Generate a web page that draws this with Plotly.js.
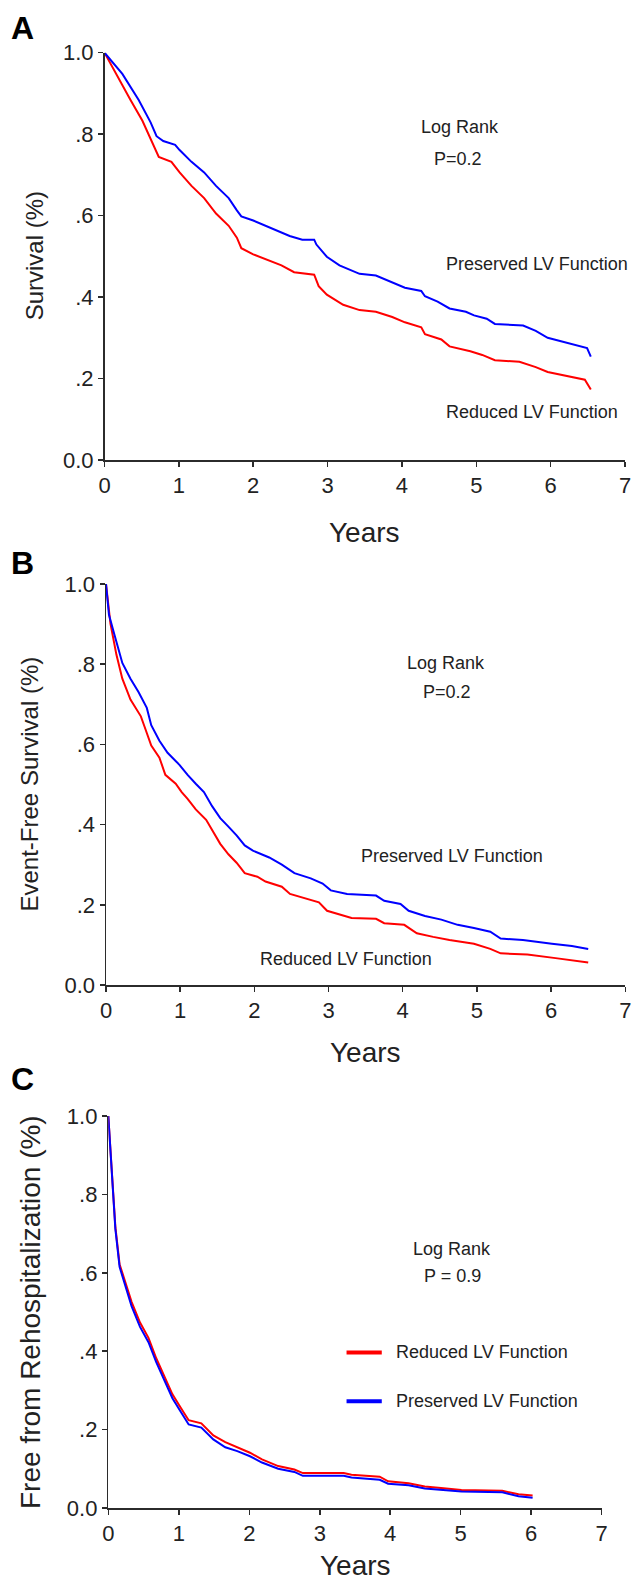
<!DOCTYPE html>
<html>
<head>
<meta charset="utf-8">
<script src="https://cdn.plot.ly/plotly-3.0.1.min.js"></script>
<style>
  html, body { margin: 0; padding: 0; background: #fff; }
  #chart { width: 640px; height: 1583px; }
</style>
</head>
<body>
<div id="chart"></div>
<script>
// ---------- Data ----------
const seriesNames = ["Reduced LV Function", "Preserved LV Function"];
const yTickVals = [0, 0.2, 0.4, 0.6, 0.8, 1.0];
const yTickText = ["0.0", ".2", ".4", ".6", ".8", "1.0"];
const xTickVals = [0, 1, 2, 3, 4, 5, 6, 7];
const xTickText = ["0", "1", "2", "3", "4", "5", "6", "7"];

// Panel A: Survival
const aRedX = [0, 0.18, 0.35, 0.51, 0.65, 0.73, 0.90, 1.01, 1.17, 1.34, 1.50, 1.67, 1.78, 1.84, 2.00, 2.16, 2.38, 2.55, 2.82, 2.88, 2.99, 3.21, 3.43, 3.65, 3.87, 4.04, 4.26, 4.31, 4.53, 4.64, 4.92, 5.08, 5.25, 5.58, 5.80, 5.96, 6.18, 6.46, 6.54];
const aRedY = [1.0, 0.939, 0.884, 0.833, 0.774, 0.744, 0.732, 0.706, 0.673, 0.643, 0.605, 0.575, 0.546, 0.520, 0.505, 0.493, 0.478, 0.461, 0.455, 0.427, 0.406, 0.381, 0.368, 0.364, 0.351, 0.338, 0.326, 0.309, 0.296, 0.279, 0.267, 0.258, 0.245, 0.241, 0.228, 0.216, 0.207, 0.197, 0.173];
const aBlueX = [0, 0.24, 0.46, 0.62, 0.70, 0.79, 0.95, 1.01, 1.17, 1.34, 1.50, 1.67, 1.78, 1.84, 2.00, 2.16, 2.33, 2.49, 2.66, 2.82, 2.85, 2.99, 3.16, 3.27, 3.43, 3.65, 3.82, 4.04, 4.26, 4.31, 4.48, 4.64, 4.86, 4.97, 5.14, 5.25, 5.63, 5.80, 5.96, 6.13, 6.35, 6.49, 6.54];
const aBlueY = [1.0, 0.948, 0.884, 0.829, 0.795, 0.783, 0.774, 0.761, 0.732, 0.706, 0.673, 0.643, 0.613, 0.598, 0.588, 0.575, 0.563, 0.550, 0.541, 0.541, 0.529, 0.499, 0.478, 0.470, 0.457, 0.453, 0.440, 0.423, 0.415, 0.402, 0.389, 0.372, 0.364, 0.355, 0.347, 0.334, 0.330, 0.317, 0.300, 0.292, 0.283, 0.275, 0.254];

// Panel B: Event-free survival
const bRedX = [0, 0.06, 0.14, 0.22, 0.33, 0.47, 0.52, 0.61, 0.72, 0.80, 0.94, 1.02, 1.10, 1.21, 1.35, 1.43, 1.54, 1.65, 1.76, 1.87, 2.04, 2.15, 2.37, 2.48, 2.70, 2.87, 2.98, 3.14, 3.31, 3.64, 3.75, 4.02, 4.19, 4.41, 4.63, 4.96, 5.18, 5.32, 5.68, 6.06, 6.50];
const bRedY = [1.0, 0.901, 0.824, 0.764, 0.712, 0.670, 0.644, 0.597, 0.567, 0.524, 0.502, 0.481, 0.464, 0.438, 0.412, 0.386, 0.352, 0.326, 0.305, 0.279, 0.270, 0.258, 0.245, 0.227, 0.215, 0.206, 0.185, 0.176, 0.167, 0.165, 0.154, 0.150, 0.129, 0.120, 0.112, 0.103, 0.090, 0.079, 0.076, 0.067, 0.056];
const bBlueX = [0, 0.04, 0.11, 0.22, 0.33, 0.44, 0.55, 0.61, 0.72, 0.83, 0.99, 1.10, 1.21, 1.32, 1.43, 1.54, 1.65, 1.76, 1.87, 1.98, 2.20, 2.37, 2.54, 2.76, 2.92, 3.03, 3.25, 3.64, 3.75, 3.97, 4.08, 4.30, 4.52, 4.74, 4.96, 5.18, 5.32, 5.62, 6.01, 6.28, 6.50];
const bBlueY = [1.0, 0.923, 0.876, 0.803, 0.764, 0.730, 0.691, 0.648, 0.609, 0.579, 0.549, 0.524, 0.502, 0.481, 0.446, 0.416, 0.395, 0.373, 0.348, 0.335, 0.318, 0.300, 0.279, 0.266, 0.253, 0.236, 0.227, 0.223, 0.210, 0.202, 0.185, 0.172, 0.163, 0.150, 0.142, 0.133, 0.116, 0.112, 0.103, 0.097, 0.090];

// Panel C: Free from rehospitalization
const cRedX = [0, 0.05, 0.10, 0.16, 0.25, 0.33, 0.45, 0.57, 0.68, 0.80, 0.91, 1.03, 1.14, 1.32, 1.49, 1.66, 1.83, 2.01, 2.18, 2.41, 2.64, 2.76, 3.34, 3.45, 3.85, 3.97, 4.26, 4.49, 4.72, 5.01, 5.59, 5.82, 6.02];
const cRedY = [1.0, 0.849, 0.718, 0.622, 0.574, 0.526, 0.473, 0.434, 0.382, 0.334, 0.290, 0.255, 0.224, 0.216, 0.185, 0.168, 0.155, 0.141, 0.124, 0.107, 0.098, 0.089, 0.089, 0.085, 0.080, 0.068, 0.063, 0.055, 0.051, 0.046, 0.044, 0.035, 0.032];
const cBlueX = [0, 0.05, 0.10, 0.16, 0.25, 0.33, 0.45, 0.57, 0.68, 0.80, 0.91, 1.03, 1.14, 1.32, 1.49, 1.66, 1.83, 2.01, 2.18, 2.41, 2.64, 2.76, 3.34, 3.45, 3.85, 3.97, 4.26, 4.49, 4.72, 5.01, 5.59, 5.82, 6.02];
const cBlueY = [1.0, 0.845, 0.712, 0.615, 0.565, 0.515, 0.462, 0.423, 0.372, 0.325, 0.280, 0.245, 0.213, 0.205, 0.175, 0.155, 0.145, 0.132, 0.116, 0.100, 0.092, 0.082, 0.082, 0.078, 0.072, 0.062, 0.058, 0.050, 0.046, 0.042, 0.040, 0.030, 0.026];

const panelLetters = ["A", "B", "C"];
const yTitles = ["Survival (%)", "Event-Free Survival (%)", "Free from Rehospitalization (%)"];
const xTitle = "Years";
const logRankText = "Log Rank";
const pTexts = ["P=0.2", "P=0.2", "P = 0.9"];

// ---------- Styling ----------
const RED = "rgb(255,0,0)";
const BLUE = "rgb(0,0,255)";
const AX = "#2b2b2b";
const FONT = "Liberation Sans, Arial, sans-serif";
const W = 640, H = 1583;
const px = v => v / W;
const py = v => 1 - v / H;

function line(x, y, color, xa, ya, name) {
  return { x, y, xaxis: xa, yaxis: ya, type: "scatter", mode: "lines", name,
           line: { color, width: 2, shape: "linear" }, showlegend: false, hoverinfo: "skip" };
}

const traces = [
  line(aRedX, aRedY, RED, "x", "y", seriesNames[0]),
  line(aBlueX, aBlueY, BLUE, "x", "y", seriesNames[1]),
  line(bRedX, bRedY, RED, "x2", "y2", seriesNames[0]),
  line(bBlueX, bBlueY, BLUE, "x2", "y2", seriesNames[1]),
  line(cRedX, cRedY, RED, "x3", "y3", seriesNames[0]),
  line(cBlueX, cBlueY, BLUE, "x3", "y3", seriesNames[1]),
];

function xAxis(domain, anchor) {
  return { domain, anchor, range: [0, 7], tickvals: xTickVals, ticktext: xTickText,
           showgrid: false, zeroline: false, showline: true, linecolor: AX, linewidth: 1.5,
           ticks: "outside", ticklen: 5, tickwidth: 1.5, tickcolor: AX,
           tickfont: { family: FONT, size: 22, color: "#222" }, fixedrange: true };
}
function yAxis(domain, anchor) {
  return { domain, anchor, range: [0, 1.0], tickvals: yTickVals, ticktext: yTickText,
           showgrid: false, zeroline: false, showline: true, linecolor: AX, linewidth: 1.5,
           ticks: "outside", ticklen: 5, tickwidth: 1.5, tickcolor: AX,
           tickfont: { family: FONT, size: 22, color: "#222" }, fixedrange: true };
}

// plot boxes in pixels: [left, right, top(1.0), bottom(0.0)]
const boxes = [
  [104.5, 625, 52.7, 460],
  [106, 625.3, 584, 985],
  [108.3, 601.7, 1116, 1508],
];
const letterY = [27.5, 563, 1079];
const yTitleX = [34, 29, 30];
const yTitleSize = [24, 24, 28];
const xTitleY = [532, 1052, 1565];

const layout = {
  width: W, height: H,
  margin: { l: 0, r: 0, t: 0, b: 0 },
  paper_bgcolor: "#fff", plot_bgcolor: "rgba(0,0,0,0)",
  showlegend: false,
  font: { family: FONT, color: "#222" },
  xaxis: xAxis([px(boxes[0][0]), px(boxes[0][1])], "y"),
  yaxis: yAxis([py(boxes[0][3]), py(boxes[0][2])], "x"),
  xaxis2: xAxis([px(boxes[1][0]), px(boxes[1][1])], "y2"),
  yaxis2: yAxis([py(boxes[1][3]), py(boxes[1][2])], "x2"),
  xaxis3: xAxis([px(boxes[2][0]), px(boxes[2][1])], "y3"),
  yaxis3: yAxis([py(boxes[2][3]), py(boxes[2][2])], "x3"),
  annotations: [],
  shapes: [],
};

const txt = (x, y, xref, yref, text, size, extra) => Object.assign({
  x, y, xref, yref, text, showarrow: false, xanchor: "center", yanchor: "middle",
  font: { family: FONT, size, color: "#222" } }, extra || {});

for (let i = 0; i < 3; i++) {
  const b = boxes[i];
  const xr = i === 0 ? "x" : "x" + (i + 1);
  layout.annotations.push(txt(px(22), py(letterY[i]), "paper", "paper",
    "<b>" + panelLetters[i] + "</b>", 32, { font: { family: FONT, size: 32, color: "#000" } }));
  layout.annotations.push(txt(px(yTitleX[i]), py((b[2] + b[3]) / 2), "paper", "paper",
    yTitles[i], yTitleSize[i], { textangle: -90 }));
  layout.annotations.push(txt(3.5, py(xTitleY[i]), xr, "paper", xTitle, 28));
}

// Panel A texts
layout.annotations.push(txt(4.78, 0.818, "x", "y", logRankText, 18));
layout.annotations.push(txt(4.75, 0.738, "x", "y", pTexts[0], 18));
layout.annotations.push(txt(4.56, 0.481, "x", "y", seriesNames[1], 18, { xanchor: "left" }));
layout.annotations.push(txt(4.57, 0.117, "x", "y", seriesNames[0], 18, { xanchor: "left" }));
// Panel B texts
layout.annotations.push(txt(4.58, 0.803, "x2", "y2", logRankText, 18));
layout.annotations.push(txt(4.60, 0.731, "x2", "y2", pTexts[1], 18));
layout.annotations.push(txt(4.67, 0.322, "x2", "y2", seriesNames[1], 18));
layout.annotations.push(txt(3.24, 0.064, "x2", "y2", seriesNames[0], 18));
// Panel C texts + legend
layout.annotations.push(txt(4.88, 0.661, "x3", "y3", logRankText, 18));
layout.annotations.push(txt(4.89, 0.593, "x3", "y3", pTexts[2], 18));
const legY = [0.397, 0.2725];
const legColors = [RED, BLUE];
for (let k = 0; k < 2; k++) {
  layout.shapes.push({ type: "line", xref: "x3", yref: "y3", x0: 3.38, x1: 3.88, y0: legY[k], y1: legY[k],
                       line: { color: legColors[k], width: 4 } });
  layout.annotations.push(txt(4.05, legY[k], "x3", "y3", seriesNames[k], 18, { xanchor: "left" }));
}

Plotly.newPlot("chart", traces, layout, { staticPlot: true, displayModeBar: false });
</script>
</body>
</html>
